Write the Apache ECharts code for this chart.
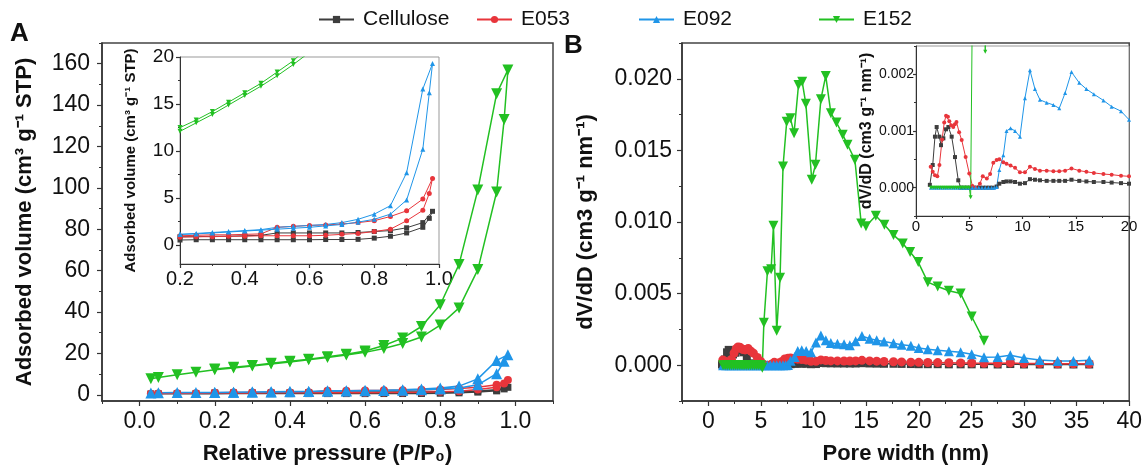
<!DOCTYPE html>
<html>
<head>
<meta charset="utf-8">
<script src="https://cdn.jsdelivr.net/npm/echarts@6/dist/echarts.min.js"></script>
<style>
html, body { margin: 0; padding: 0; background: #fff; }
#main { width: 1145px; height: 470px; }
</style>
</head>
<body>
<div id="main"></div>
<script>
// ---- panel A : N2 isotherms (relative pressure P/P0) ----
var adsPressure = [0.03, 0.05, 0.1, 0.15, 0.2, 0.25, 0.3, 0.35, 0.4, 0.45, 0.5, 0.55, 0.6, 0.65, 0.7, 0.75, 0.8, 0.85, 0.9, 0.95, 0.97, 0.98];
var desPressure = [0.95, 0.9, 0.85, 0.8, 0.75, 0.7, 0.65, 0.6, 0.55, 0.5, 0.45, 0.4, 0.35, 0.3, 0.25, 0.2];

var celluloseAds = [0.4, 0.45, 0.5, 0.55, 0.55, 0.58, 0.58, 0.58, 0.58, 0.58, 0.58, 0.58, 0.58, 0.6, 0.6, 0.62, 0.75, 0.95, 1.3, 1.9, 2.85, 3.6];
var celluloseDes = [2.4, 1.85, 1.55, 1.45, 1.35, 1.3, 1.3, 1.3, 1.3, 1.3, 1.05, 1.0, 0.95, 0.95, 0.9, 0.9];
var e053Ads = [0.5, 0.6, 0.7, 0.8, 0.85, 0.9, 0.9, 0.95, 0.95, 1.0, 1.0, 1.0, 1.0, 1.05, 1.15, 1.25, 1.45, 1.7, 2.6, 3.7, 5.5, 7.1];
var e053Des = [4.9, 3.65, 3.05, 2.6, 2.4, 2.25, 2.15, 2.1, 2.0, 1.9, 1.2, 1.15, 1.1, 1.1, 1.05, 1.0];
var e092Ads = [0.9, 1.0, 1.05, 1.1, 1.15, 1.2, 1.3, 1.4, 1.5, 1.6, 1.7, 1.8, 1.9, 2.05, 2.2, 2.45, 2.75, 3.3, 4.8, 10.2, 16.2, 19.3];
var e092Des = [16.6, 7.7, 4.2, 3.3, 2.75, 2.4, 2.2, 2.1, 2.0, 1.9, 1.65, 1.55, 1.45, 1.35, 1.25, 1.15];
var e152Ads = [7.8, 8.3, 9.7, 10.9, 12.1, 13.0, 13.9, 14.9, 15.9, 16.9, 18.0, 19.2, 20.5, 22.4, 24.8, 27.9, 33.7, 42, 60.5, 98, 133, 157];
var e152Des = [145.5, 99, 63, 43.5, 33, 27.4, 23.8, 21.2, 19.6, 18.4, 17.2, 16.2, 15.2, 14.2, 13.3, 12.5];

// ---- panel B : pore size distribution (pore width nm, dV/dD) ----
var poreLarge = [7.57, 7.82, 8.2, 8.5, 8.88, 9.3, 9.76, 10.23, 10.7, 11.17, 11.64, 12.27, 12.9, 13.45, 14.0, 14.6, 15.33, 16.0, 16.7, 17.6, 18.37, 19.25, 20.0,
    20.86, 21.8, 22.86, 23.98, 25.03, 26.2, 27.5, 28.7, 30, 31.5, 33.2, 34.7, 36.2];

var cellulosePoreX = [1.3, 1.57, 1.78, 1.94, 2.19, 2.35, 2.57, 2.82, 3.04, 3.35, 3.66, 3.97, 4.2, 4.5, 4.8, 5.1, 5.4, 5.7, 6.0, 6.3, 6.6, 6.9, 7.2].concat(poreLarge);
var cellulosePoreY = [0.00005, 0.0004, 0.0009, 0.00107, 0.0009, 0.00075, 0.00087, 0.00103, 0.00107, 0.0009, 0.00054, 0.00013, 0, 0, 0, 0, 0, 0, 0, 0, 0, 0, 0,
    0.00002, 0.00007, 0.0001, 0.00011, 0.00011, 0.0001, 0.00007, 0.00008, 0.00015, 0.00014, 0.00013, 0.00012, 0.00012, 0.00012, 0.00012, 0.00014, 0.00012, 0.00011, 0.0001, 0.0001, 0.00009, 0.00008, 0.00007,
    0.00007, 0.00007, 0.00006, 0.00006, 0.00006, 0.00006, 0.00005, 0.00008, 0.00005, 0.00005, 0.00005, 0.00005, 0.00005];
var e053PoreX = [1.38, 1.57, 1.78, 2.0, 2.2, 2.45, 2.65, 2.82, 3.0, 3.13, 3.3, 3.5, 3.65, 3.8, 4.05, 4.29, 4.66, 5.0, 5.3, 5.6, 6.0, 6.27, 6.65, 6.96, 7.26].concat(poreLarge);
var e053PoreY = [0.00037, 0.00028, 0.00022, 0.0002, 0.0004, 0.00085, 0.00115, 0.00127, 0.00125, 0.00117, 0.0011, 0.00107, 0.00112, 0.00116, 0.00098, 0.00084, 0.00054, 0.00025, 0.00003, 0, 0.00007, 0.0002, 0.00016, 0.00024, 0.00044,
    0.00049, 0.0005, 0.00045, 0.00042, 0.00039, 0.00035, 0.00027, 0.00027, 0.00037, 0.00033, 0.0003, 0.0003, 0.00029, 0.00029, 0.0003, 0.00034, 0.0003, 0.00028, 0.00026, 0.00024, 0.00023, 0.00021, 0.0002,
    0.00019, 0.00018, 0.00017, 0.00016, 0.00015, 0.00014, 0.00013, 0.00016, 0.00012, 0.00011, 0.0001, 0.0001, 0.0001];
var e092PoreX = [1.4, 1.7, 2.0, 2.3, 2.6, 2.9, 3.2, 3.5, 3.8, 4.1, 4.4, 4.7, 5.0, 5.3, 5.6, 5.9, 6.2, 6.5, 6.8, 7.1, 7.35].concat(poreLarge);
var e092PoreY = [0, 0, 0, 0, 0, 0, 0, 0, 0, 0, 0, 0, 0, 0, 0, 0, 0, 0, 0, 0, 0,
    0.00001, 0.00031, 0.00057, 0.001, 0.00105, 0.001, 0.0009, 0.00158, 0.00207, 0.00174, 0.00155, 0.0015, 0.00146, 0.0014, 0.00167, 0.00204, 0.00185, 0.00174, 0.00165, 0.00154, 0.00143, 0.00135, 0.0012,
    0.00112, 0.00104, 0.00097, 0.0009, 0.00076, 0.00055, 0.00058, 0.0007, 0.0005, 0.00036, 0.0003, 0.0003, 0.00035];
var e152PoreX = [1.4, 1.6, 1.8, 2.0, 2.2, 2.4, 2.6, 2.8, 3.0, 3.2, 3.4, 3.6, 3.8, 4.0, 4.2, 4.4, 4.6, 4.8, 5.0, 5.13,
    5.28, 5.62, 5.97, 6.19, 6.5, 6.82, 7.1, 7.45, 7.8, 8.15, 8.57, 8.92, 9.27, 9.83, 10.18, 10.7, 11.16, 11.65, 12.18, 12.77, 13.23, 13.93,
    14.53, 14.98, 15.92, 16.73, 17.6, 18.48, 19.18, 19.95, 20.86, 21.8, 22.86, 23.98, 25.03, 26.2];
var e152PoreY = [0, 0, 0, 0, 0, 0, 0, 0, 0, 0, 0, 0, 0, 0, 0, 0, 0, 0, 0, -0.00017,
    0.00296, 0.00656, 0.0067, 0.00974, 0.0024, 0.0061, 0.01388, 0.0170, 0.01725, 0.0162, 0.01957, 0.0198, 0.01825, 0.01295, 0.014, 0.01858, 0.0202, 0.0176, 0.01695, 0.0161, 0.0154, 0.01435,
    0.0099, 0.0097, 0.01044, 0.0098, 0.0091, 0.0085, 0.0079, 0.0072, 0.0058, 0.0055, 0.0052, 0.005, 0.0034, 0.0017];

// ---- tick labels ----
var isoMainX = [0, 0.2, 0.4, 0.6, 0.8, 1.0], isoMainXMinor = [-0.1, 0.1, 0.3, 0.5, 0.7, 0.9, 1.1];
var isoMainY = [0, 20, 40, 60, 80, 100, 120, 140, 160], isoMainYMinor = [10, 30, 50, 70, 90, 110, 130, 150, 170];
var isoInsetX = [0.2, 0.4, 0.6, 0.8, 1.0], isoInsetXMinor = [0.3, 0.5, 0.7, 0.9];
var isoInsetY = [0, 5, 10, 15, 20], isoInsetYMinor = [2.5, 7.5, 12.5, 17.5];
var psdMainX = [0, 5, 10, 15, 20, 25, 30, 35, 40], psdMainXMinor = [-2.5, 2.5, 7.5, 12.5, 17.5, 22.5, 27.5, 32.5, 37.5];
var psdMainY = [0, 0.005, 0.01, 0.015, 0.02], psdMainYMinor = [-0.0025, 0.0025, 0.0075, 0.0125, 0.0175, 0.0225];
var psdInsetX = [0, 5, 10, 15, 20], psdInsetXMinor = [2.5, 7.5, 12.5, 17.5];
var psdInsetY = [0, 0.001, 0.002], psdInsetYMinor = [-0.0005, 0.0005, 0.0015, 0.0025];

var font = "'Liberation Sans', Arial, sans-serif";
var axisColor = '#333';

var samples = [
    { name: 'Cellulose', color: '#3d3d3d', symbol: 'rect', size: [7, 8], ads: celluloseAds, des: celluloseDes, px: cellulosePoreX, py: cellulosePoreY },
    { name: 'E053', color: '#e8353b', symbol: 'circle', size: [8, 9], ads: e053Ads, des: e053Des, px: e053PoreX, py: e053PoreY },
    { name: 'E092', color: '#1f95e8', symbol: 'triangle', size: [11, 10], ads: e092Ads, des: e092Des, px: e092PoreX, py: e092PoreY },
    { name: 'E152', color: '#22c022', symbol: 'path://M0,0L10,0L5,8.66Z', size: [11, 10], ads: e152Ads, des: e152Des, px: e152PoreX, py: e152PoreY }
];

function pairs(xs, ys) {
    return xs.map(function (x, i) { return [x, ys[i]]; });
}

// one labelled axis plus a twin that only carries the short minor ticks
function axisPair(grid, pos, min, max, major, minor, cfg) {
    var main = {
        gridIndex: grid, position: pos, type: 'value', min: min, max: max,
        splitLine: { show: false },
        axisLine: { show: true, onZero: false, lineStyle: { color: axisColor, width: cfg.lw || 1.5 } },
        axisTick: { show: true, length: cfg.tick || 5, customValues: major, lineStyle: { color: axisColor, width: 1.2 } },
        axisLabel: { customValues: major, fontSize: cfg.font, color: '#111', margin: cfg.margin, fontFamily: font, formatter: cfg.fmt },
        name: cfg.name || '', nameLocation: 'middle', nameGap: cfg.nameGap || 0,
        nameTextStyle: { fontSize: cfg.nameSize || 22, fontWeight: 'bold', color: '#111', fontFamily: font }
    };
    var sub = {
        gridIndex: grid, position: pos, type: 'value', min: min, max: max,
        splitLine: { show: false },
        axisLine: { show: false, onZero: false },
        axisTick: { show: true, length: cfg.minorLen || 3, customValues: minor, lineStyle: { color: axisColor, width: 1 } },
        axisLabel: { show: false }
    };
    return [main, sub];
}

var fmt1 = function (v) { return v.toFixed(1); };
var fmt3 = function (v) { return v.toFixed(3); };
var fmt0 = function (v) { return String(v); };

var xAxes = [].concat(
    axisPair(0, 'bottom', -0.1, 1.1, isoMainX, isoMainXMinor, { font: 23, margin: 9, fmt: fmt1, name: 'Relative pressure (P/P\u2080)', nameGap: 42 }),
    axisPair(1, 'bottom', 0.2, 1.0, isoInsetX, isoInsetXMinor, { font: 20, margin: 5, fmt: fmt1, lw: 1, tick: 4, minorLen: 2 }),
    axisPair(2, 'bottom', -2.5, 40, psdMainX, psdMainXMinor, { font: 23, margin: 9, fmt: fmt0, name: 'Pore width (nm)', nameGap: 42 }),
    axisPair(3, 'bottom', 0, 20, psdInsetX, psdInsetXMinor, { font: 15, margin: 3, fmt: fmt0, lw: 1, tick: 3, minorLen: 2 })
);
var yAxes = [].concat(
    axisPair(0, 'left', -3, 170, isoMainY, isoMainYMinor, { font: 23, margin: 12, fmt: fmt0, name: 'Adsorbed volume (cm\u00b3 g\u207b\u00b9 STP)', nameGap: 66 }),
    axisPair(1, 'left', -2, 20, isoInsetY, isoInsetYMinor, { font: 19, margin: 6, fmt: fmt0, lw: 1, tick: 4, minorLen: 2, name: 'Adsorbed volume (cm\u00b3 g\u207b\u00b9 STP)', nameGap: 42, nameSize: 15 }),
    axisPair(2, 'left', -0.0025, 0.0225, psdMainY, psdMainYMinor, { font: 23, margin: 10, fmt: fmt3, name: 'dV/dD (cm3 g\u207b\u00b9 nm\u207b\u00b9)', nameGap: 85 }),
    axisPair(3, 'left', -0.0005, 0.0025, psdInsetY, psdInsetYMinor, { font: 14, margin: 2, fmt: fmt3, lw: 1, tick: 3, minorLen: 2, name: 'dV/dD (cm3 g\u207b\u00b9 nm\u207b\u00b9)', nameGap: 36, nameSize: 16 })
);

var series = [];
samples.forEach(function (s) {
    var iso = pairs(adsPressure, s.ads).concat(pairs(desPressure, s.des));
    var psd = pairs(s.px, s.py);
    var base = { name: s.name, type: 'line', symbol: s.symbol, itemStyle: { color: s.color }, animation: false };
    series.push(Object.assign({}, base, { xAxisIndex: 0, yAxisIndex: 0, data: iso, symbolSize: s.size[0], lineStyle: { width: 1.5, color: s.color } }));
    series.push(Object.assign({}, base, { xAxisIndex: 2, yAxisIndex: 2, data: iso, symbolSize: 5, lineStyle: { width: 1, color: s.color } }));
    series.push(Object.assign({}, base, { xAxisIndex: 4, yAxisIndex: 4, data: psd, symbolSize: s.size[1], lineStyle: { width: 1.5, color: s.color } }));
    series.push(Object.assign({}, base, { xAxisIndex: 6, yAxisIndex: 6, data: psd, symbolSize: 4, lineStyle: { width: 1, color: s.color } }));
});

var legendPos = [318, 476, 638, 818];
var legends = samples.map(function (s, i) {
    return {
        data: [s.name], left: legendPos[i], top: 9, padding: 0, selectedMode: false,
        itemWidth: 35, itemHeight: 9, itemGap: 0,
        textStyle: { fontSize: 21, color: '#111', fontFamily: font, padding: [0, 0, 0, 4] }
    };
});

var myChart = echarts.init(document.getElementById('main'), null, { renderer: 'canvas' });
var option = {
    backgroundColor: '#fff',
    animation: false,
    textStyle: { fontFamily: font },
    legend: legends,
    grid: [
        { left: 102, top: 43, width: 451, height: 358, show: true, borderColor: '#444', borderWidth: 1.5, backgroundColor: '#fff' },
        { left: 180, top: 57, width: 259, height: 207, show: true, borderColor: '#999', borderWidth: 1, backgroundColor: '#fff' },
        { left: 682, top: 43, width: 452, height: 358, show: true, borderColor: '#444', borderWidth: 1.5, backgroundColor: '#fff' },
        { left: 916, top: 46, width: 213, height: 170, show: true, borderColor: '#999', borderWidth: 1, backgroundColor: '#fff' }
    ],
    xAxis: xAxes,
    yAxis: yAxes,
    graphic: [
        { type: 'text', left: 10, top: 21, style: { text: 'A', font: 'bold 26px ' + font, fill: '#111' } },
        { type: 'text', left: 564, top: 33, style: { text: 'B', font: 'bold 26px ' + font, fill: '#111' } }
    ],
    series: series
};
myChart.setOption(option);
</script>
</body>
</html>
